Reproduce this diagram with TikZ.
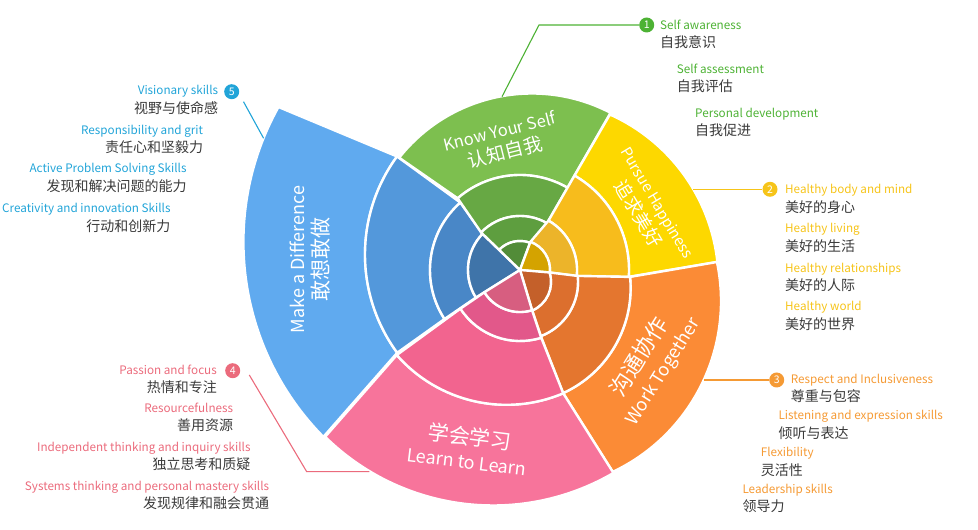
\documentclass[tikz,border=0pt]{standalone}
\usepackage{fontspec}
\setmainfont{Noto Sans CJK SC}
\usetikzlibrary{calc}
\definecolor{gA}{HTML}{528C38}
\definecolor{gB}{HTML}{5E9E3F}
\definecolor{gC}{HTML}{67A844}
\definecolor{gD}{HTML}{7DBF4F}
\definecolor{yA}{HTML}{D4A300}
\definecolor{yB}{HTML}{ECB42A}
\definecolor{yC}{HTML}{F7BC1C}
\definecolor{yD}{HTML}{FDD800}
\definecolor{oA}{HTML}{C4602A}
\definecolor{oB}{HTML}{DC6F2E}
\definecolor{oC}{HTML}{E4762F}
\definecolor{oD}{HTML}{FB8B36}
\definecolor{pA}{HTML}{D75E80}
\definecolor{pB}{HTML}{E2588A}
\definecolor{pC}{HTML}{F2648F}
\definecolor{pD}{HTML}{F7749B}
\definecolor{bA}{HTML}{3F74A9}
\definecolor{bB}{HTML}{4987C7}
\definecolor{bC}{HTML}{5398DB}
\definecolor{bD}{HTML}{60AAEF}
\definecolor{tG}{HTML}{4DB234}
\definecolor{tY}{HTML}{F6C419}
\definecolor{tO}{HTML}{F59A34}
\definecolor{tP}{HTML}{EB6B7C}
\definecolor{tB}{HTML}{21A4D8}
\definecolor{cnGray}{HTML}{3A3A3A}
\newcommand\cnsize{\fontsize{14}{18.5}\selectfont}
% ring piece: colour, inner centre, r, from, to, outer centre, r, from, to
\newcommand\ringpart[9]{\path[ringfill,fill=#1] ($(#2)+(#4:#3)$) arc[start angle=#4,end angle=#5,radius=#3]%
  -- ($(#6)+(#9:#7)$) arc[start angle=#9,end angle=#8,radius=#7] -- cycle;}
\begin{document}
\begin{tikzpicture}[x=1pt,y=1pt,
    ringfill/.style={draw=white,line width=2.4pt,line join=round},
    sectortitle/.style={text=white,align=center,inner sep=0pt},
    badge/.style={circle,fill=#1,text=white,inner sep=0pt,minimum size=15pt,font=\fontsize{10.5}{10.5}\selectfont},
    itemL/.style={text=cnGray,align=left,anchor=west,inner sep=0pt,font=\fontsize{11.7}{18.5}\selectfont},
    itemR/.style={text=cnGray,align=right,anchor=east,inner sep=0pt,font=\fontsize{11.7}{18.5}\selectfont},
    leader/.style={line width=1.1pt}]
\useasboundingbox (0,0) rectangle (978,530);
% centres of the arcs
\coordinate (C) at (520,260);
\coordinate (Co) at (520,248);
\coordinate (Ct) at (515,242);
\coordinate (Gout) at (532,267);
\coordinate (Yout) at (535,248);
\coordinate (Oout) at (532,229);
\coordinate (Pmid) at (506.5,271);
\coordinate (Pout) at (493,264);
\coordinate (Bmid) at (531,275.5);
\coordinate (Bout) at (521,288);
% Make a Difference
\ringpart{bD}{Bmid}{166}{143.8}{216.3}{Bout}{277.6}{150.9}{224.6}
\ringpart{bC}{C}{90}{131.5}{213}{Bmid}{166}{143.8}{216.3}
\ringpart{bB}{C}{52}{136}{212}{C}{90}{131.5}{213}
\path[ringfill,fill=bA] (C) -- ($(C)+(136:52)$) arc[start angle=136,end angle=212,radius=52] -- cycle;
% Know Your Self
\ringpart{gD}{C}{95}{60}{131}{Gout}{169.5}{62.4}{141.6}
\ringpart{gC}{C}{54}{60}{136}{C}{95}{60}{131}
\ringpart{gB}{C}{29}{69.7}{136}{C}{54}{60}{136}
\path[ringfill,fill=gA] (C) -- ($(C)+(69.7:29)$) arc[start angle=69.7,end angle=136,radius=29] -- cycle;
% Pursue Happiness
\ringpart{yD}{C}{109}{-3.6}{60}{Yout}{183.5}{6.3}{65.9}
\ringpart{yC}{C}{57}{-6}{60}{C}{109}{-3.6}{60}
\ringpart{yB}{C}{30}{-4.8}{69.7}{C}{57}{-6}{60}
\path[ringfill,fill=yA] (C) -- ($(C)+(-4.8:30)$) arc[start angle=-4.8,end angle=69.7,radius=30] -- cycle;
% Work Together
\ringpart{oD}{Ct}{115.6}{-65.4}{5.5}{Oout}{189}{-64.7}{11.9}
\ringpart{oC}{Co}{58}{-69}{6}{Ct}{115.6}{-65.4}{5.5}
\ringpart{oB}{Co}{31}{-66.8}{17.9}{Co}{58}{-69}{6}
\path[ringfill,fill=oA] (C) -- ($(Co)+(-66.8:31)$) arc[start angle=-66.8,end angle=17.9,radius=31] -- cycle;
% Learn to Learn
\ringpart{pD}{Pmid}{145.8}{221.2}{292.9}{Pout}{239.5}{225.5}{300.2}
\ringpart{pC}{C}{71}{213}{287.4}{Pmid}{145.8}{221.2}{292.9}
\ringpart{pB}{C}{42}{212}{286.7}{C}{71}{213}{287.4}
\path[ringfill,fill=pA] (C) -- ($(C)+(212:42)$) arc[start angle=212,end angle=286.7,radius=42] -- cycle;
% sector titles
\node[sectortitle,rotate=90,font=\fontsize{18}{24}\selectfont] (md) at (310.5,270.5) {Make a Difference\\{\fontsize{21}{24}\selectfont 敢想敢做}};
\node[sectortitle,rotate=14,font=\fontsize{16.5}{22}\selectfont] (ky) at (502.5,387.5) {Know Your Self\\{\fontsize{19}{22}\selectfont 认知自我}};
\node[sectortitle,rotate=-59,font=\fontsize{15}{23}\selectfont] (ph) at (647,321) {Pursue Happiness\\{\fontsize{18.5}{23}\selectfont 追求美好}};
\node[sectortitle,rotate=58,font=\fontsize{22}{26}\selectfont] (wt) at (651,166) {沟通协作\\{\fontsize{18}{26}\selectfont Work Together}};
\node[sectortitle,rotate=-7,font=\fontsize{21}{24}\selectfont] (ll) at (468.5,82) {学会学习\\{\fontsize{18}{24}\selectfont Learn to Learn}};
% 1 Know Your Self
\node[badge=tG] (n1) at (646.7,505) {1};
\node[itemL] (ky1) at (660,495.8) {\textcolor{tG}{Self awareness}\\{\cnsize 自我意识}};
\node[itemL] (ky2) at (676.7,451.7) {\textcolor{tG}{Self assessment}\\{\cnsize 自我评估}};
\node[itemL] (ky3) at (695,407.5) {\textcolor{tG}{Personal development}\\{\cnsize 自我促进}};
\coordinate (kyS) at (502,433.3);
\coordinate (kyB) at (539,505);
\draw[leader,tG] (kyS) -- (kyB) -- (n1);
% 2 Pursue Happiness
\node[badge=tY] (n2) at (770,340.7) {2};
\node[itemL] (ph1) at (785,331.2) {\textcolor{tY}{Healthy body and mind}\\{\cnsize 美好的身心}};
\node[itemL] (ph2) at (785,292) {\textcolor{tY}{Healthy living}\\{\cnsize 美好的生活}};
\node[itemL] (ph3) at (785,252.5) {\textcolor{tY}{Healthy relationships}\\{\cnsize 美好的人际}};
\node[itemL] (ph4) at (785,214.1) {\textcolor{tY}{Healthy world}\\{\cnsize 美好的世界}};
\coordinate (phS) at (693,340.7);
\draw[leader,tY] (phS) -- (n2);
% 3 Work Together
\node[badge=tO] (n3) at (776.7,150) {3};
\node[itemL] (wt1) at (790.7,141.7) {\textcolor{tO}{Respect and Inclusiveness}\\{\cnsize 尊重与包容}};
\node[itemL] (wt2) at (778.3,105) {\textcolor{tO}{Listening and expression skills}\\{\cnsize 倾听与表达}};
\node[itemL] (wt3) at (760.7,68.3) {\textcolor{tO}{Flexibility}\\{\cnsize 灵活性}};
\node[itemL] (wt4) at (742.3,31.7) {\textcolor{tO}{Leadership skills}\\{\cnsize 领导力}};
\coordinate (wtS) at (704,150);
\draw[leader,tO] (wtS) -- (n3);
% 4 Learn to Learn
\node[badge=tP] (n4) at (232.7,159.3) {4};
\node[itemR] (ll1) at (217,150.5) {\textcolor{tP}{Passion and focus}\\{\cnsize 热情和专注}};
\node[itemR] (ll2) at (233.3,112.5) {\textcolor{tP}{Resourcefulness}\\{\cnsize 善用资源}};
\node[itemR] (ll3) at (250.7,73.8) {\textcolor{tP}{Independent thinking and inquiry skills}\\{\cnsize 独立思考和质疑}};
\node[itemR] (ll4) at (269.3,34.7) {\textcolor{tP}{Systems thinking and personal mastery skills}\\{\cnsize 发现规律和融会贯通}};
\coordinate (llT) at (249.3,155);
\coordinate (llB) at (306.7,58.3);
\coordinate (llS) at (369.4,58.3);
\draw[leader,tP] (llT) -- (llB) -- (llS);
% 5 Make a Difference
\node[badge=tB] (n5) at (231.7,438.3) {5};
\node[itemR] (md1) at (218.3,430) {\textcolor{tB}{Visionary skills}\\{\cnsize 视野与使命感}};
\node[itemR] (md2) at (203.3,390.8) {\textcolor{tB}{Responsibility and grit}\\{\cnsize 责任心和坚毅力}};
\node[itemR] (md3) at (186.7,352) {\textcolor{tB}{Active Problem Solving Skills}\\{\cnsize 发现和解决问题的能力}};
\node[itemR] (md4) at (170.7,312) {\textcolor{tB}{Creativity and innovation Skills}\\{\cnsize 行动和创新力}};
\coordinate (mdT) at (243.5,428.3);
\coordinate (mdS) at (263.6,391.7);
\draw[leader,tB] (mdT) -- (mdS);
\end{tikzpicture}
\end{document}
